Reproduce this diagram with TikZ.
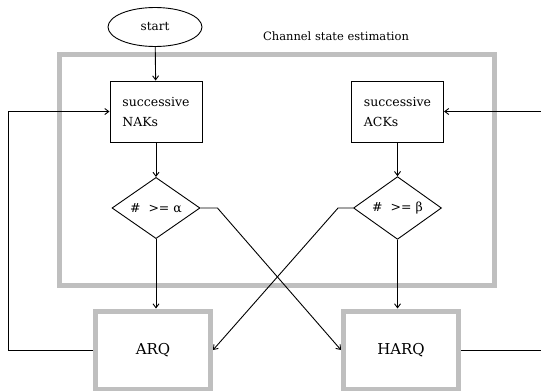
\documentclass[tikz,border=0pt]{standalone}
\usepackage{fontspec}
\setmainfont{DejaVu Serif}
\usetikzlibrary{shapes.geometric,arrows.meta}

\begin{document}
\begin{tikzpicture}[x=1pt,y=-1pt,line width=0.9pt,
	box/.style={draw,line width=1pt,minimum width=92,minimum height=61,align=left,font=\fontsize{12.5}{20}\selectfont},
	test/.style={draw,diamond,inner sep=0pt,minimum width=88,minimum height=60,font=\fontsize{12.5}{14}\selectfont},
	mode/.style={draw=gray!50,line width=5pt,minimum width=115,minimum height=78,font=\fontsize{15}{17}\selectfont},
	>={Straight Barb[length=4pt,width=6pt]}]
			\clip (0,0) rectangle (541,391);
			\fill[white] (0,0) rectangle (541,391);
			
			% channel state estimation frame
			\draw[gray!50,line width=5pt] (59,54) rectangle (494,285);
			\node (title) at (336,36) {\fontsize{11.5}{13}\selectfont Channel state estimation};
			
			\node[draw,ellipse,minimum width=94,minimum height=39,font=\fontsize{12}{14}\selectfont] (start) at (155,27) {start};
			\node[box] (naks) at (156,111.5) {successive\\NAKs};
			\node[box] (acks) at (397.5,111.5) {successive\\ACKs};
			\node[test] (ge1) at (156,208) {\#\ \ >= α};
			\node[test] (ge2) at (397.5,208) {\#\ \ >= β};
			\node[mode] (arq) at (153,350) {ARQ};
			\node[mode] (harq) at (401,350) {HARQ};
			
			\coordinate (lf) at (8,0);
			\coordinate (rt) at (560,0);
			
			\draw[->] (start) -- (naks);
			\draw[->] (acks) -- (ge2);
			\draw[->] (naks) -- (ge1);
			\draw[->] (ge1.south) -- (ge1.south |- arq.north);
			\draw[->] (ge2.south) -- (ge2.south |- harq.north);
			
			% crossing branches
			\draw[->] (ge1.east) -- ++(17,0) -- (harq.west);
			\draw[->] (ge2.west) -- ++(-15,0) -- (arq.east);
			
			% feedback loops
			\draw[->] (arq.west) -- (arq.west -| lf) -- (naks.west -| lf) -- (naks.west);
			\draw[->] (harq.east) -- (harq.east -| rt) -- (acks.east -| rt) -- (acks.east);
			\end{tikzpicture}
\end{document}
